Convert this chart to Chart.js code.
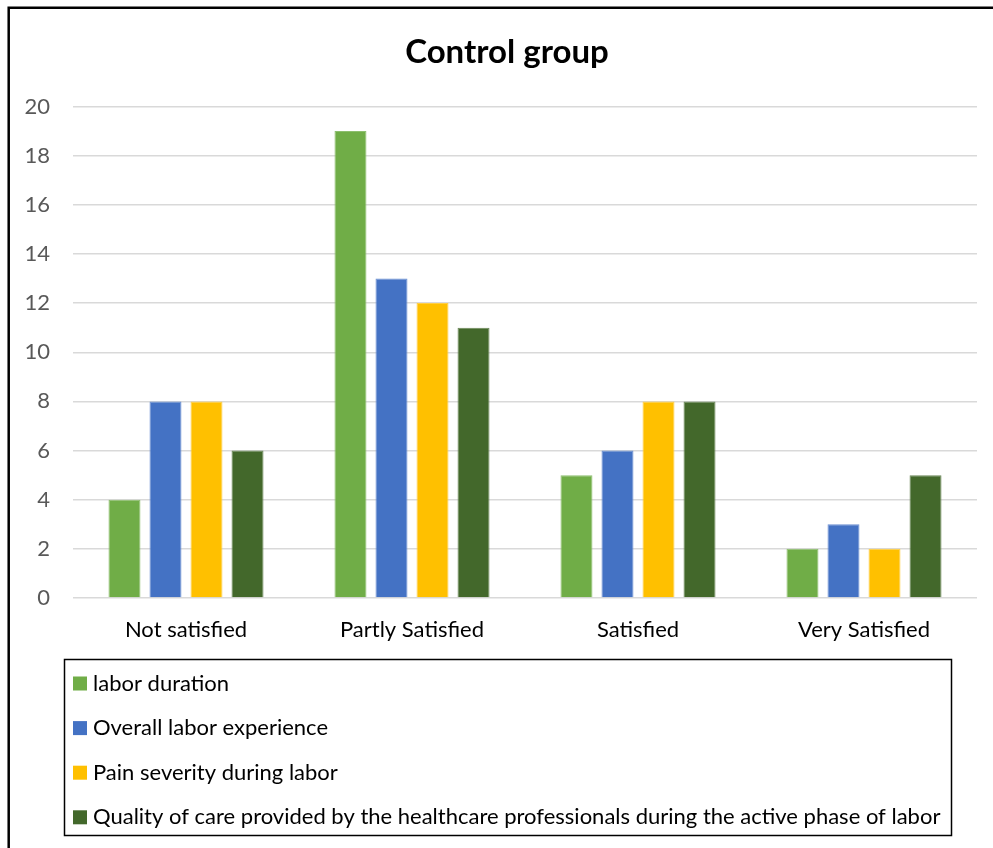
<!DOCTYPE html>
<html>
<head>
<meta charset="utf-8">
<script src="https://cdn.jsdelivr.net/npm/chart.js@4/dist/chart.umd.min.js"></script>
<style>
  html, body { margin: 0; padding: 0; background: #fff; }
  #wrap { position: relative; width: 993px; height: 848px; }
</style>
</head>
<body>
<div id="wrap"><canvas id="c" width="993" height="848"></canvas></div>
<script>
// Satisfaction levels on the category axis
const categories = ['Not satisfied', 'Partly Satisfied', 'Satisfied', 'Very Satisfied'];

// Counts per satisfaction aspect
const laborDuration = [4, 19, 5, 2];
const overallExperience = [8, 13, 6, 3];
const painSeverity = [8, 12, 8, 2];
const qualityOfCare = [6, 11, 8, 5];

const seriesNames = [
  'labor duration',
  'Overall labor experience',
  'Pain severity during labor',
  'Quality of care provided by the healthcare professionals during the active phase of labor'
];

const yTicks = [0, 2, 4, 6, 8, 10, 12, 14, 16, 18, 20];

const chartTitle = 'Control group';

const fills = ['#70AD47', '#4472C4', '#FFC000', '#43682B'];
const edges = ['#8DBF6E', '#6A8FD2', '#FFCE44', '#6A8757'];

const FONT = 'Lato, "Open Sans", sans-serif';

// Outer frame (left and top edges) and the chart heading
const framePlugin = {
  id: 'frame',
  beforeDraw(chart) {
    const ctx = chart.ctx;
    ctx.save();
    ctx.fillStyle = '#fff';
    ctx.fillRect(0, 0, chart.width, chart.height);
    ctx.strokeStyle = '#000';
    ctx.lineWidth = 2.5;
    ctx.beginPath();
    ctx.moveTo(8.7, chart.height);
    ctx.lineTo(8.7, 7.8);
    ctx.lineTo(chart.width, 7.8);
    ctx.stroke();
    ctx.fillStyle = '#000';
    ctx.font = 'bold 33px ' + FONT;
    ctx.textAlign = 'center';
    ctx.textBaseline = 'middle';
    ctx.fillText(chartTitle, 507, 52);
    ctx.restore();
  }
};

// Boxed vertical legend below the axis
const boxLegendPlugin = {
  id: 'boxLegend',
  afterDraw(chart) {
    const ctx = chart.ctx;
    ctx.save();
    ctx.strokeStyle = '#000';
    ctx.lineWidth = 1.5;
    ctx.strokeRect(64.5, 659.5, 887, 176);
    ctx.font = '22px ' + FONT;
    ctx.textBaseline = 'middle';
    ctx.textAlign = 'left';
    chart.data.datasets.forEach((ds, i) => {
      const cy = 683.5 + i * 44.6;
      ctx.fillStyle = ds.backgroundColor;
      ctx.fillRect(73, cy - 7, 14, 14);
      ctx.fillStyle = '#000';
      ctx.fillText(ds.label, 93, cy);
    });
    ctx.restore();
  }
};

const series = [laborDuration, overallExperience, painSeverity, qualityOfCare];

new Chart(document.getElementById('c'), {
  type: 'bar',
  data: {
    labels: categories,
    datasets: series.map((vals, i) => ({
      label: seriesNames[i],
      data: vals,
      backgroundColor: fills[i],
      borderColor: edges[i],
      borderWidth: 1,
      categoryPercentage: 0.726,
      barPercentage: 0.78
    }))
  },
  options: {
    responsive: false,
    animation: false,
    devicePixelRatio: 1,
    layout: { padding: { left: 0, right: 16, top: 106.5, bottom: 206 } },
    plugins: {
      legend: { display: false },
      tooltip: { enabled: false },
      title: { display: false }
    },
    scales: {
      x: {
        grid: { display: false, drawTicks: false },
        border: { display: false },
        ticks: {
          color: '#000',
          font: { family: FONT, size: 22 },
          padding: 19,
          maxRotation: 0
        },
        afterFit(scale) { scale.height = 44; }
      },
      y: {
        min: 0,
        max: 20,
        afterBuildTicks(scale) { scale.ticks = yTicks.map(v => ({ value: v })); },
        grid: { color: '#D9D9D9', lineWidth: 1.5, drawTicks: false },
        border: { display: false },
        ticks: {
          color: '#595959',
          font: { family: FONT, size: 22 },
          padding: 23
        },
        afterFit(scale) { scale.width = 73; }
      }
    }
  },
  plugins: [framePlugin, boxLegendPlugin]
});
</script>
</body>
</html>
